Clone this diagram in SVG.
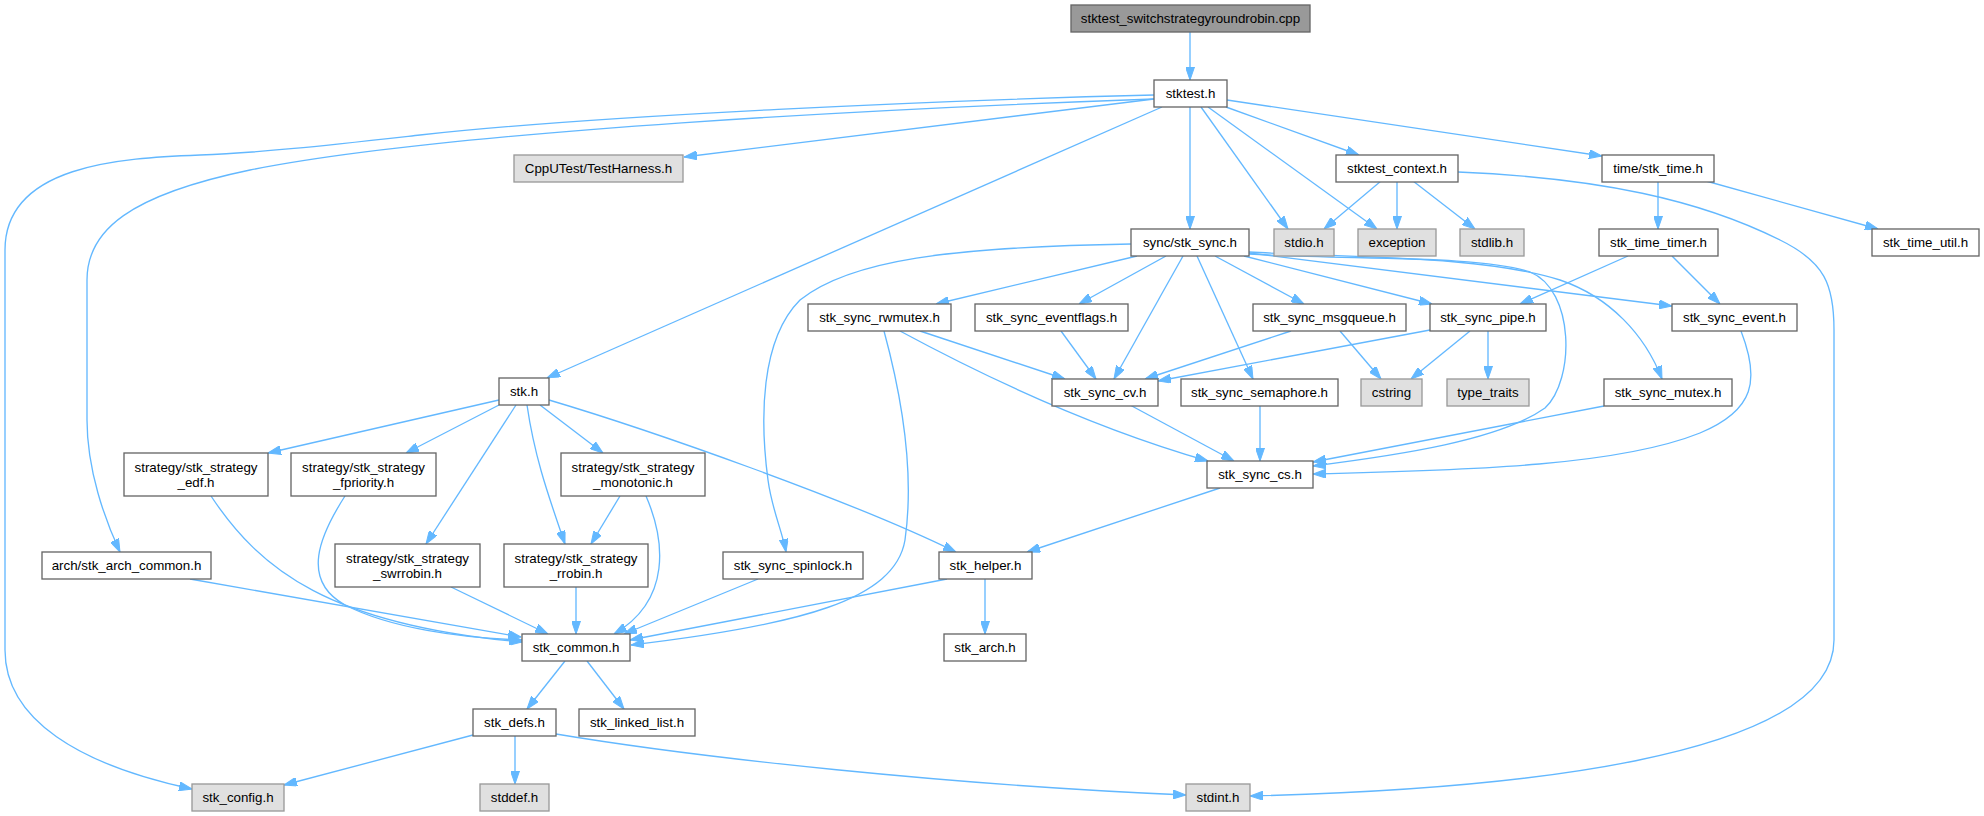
<svg xmlns="http://www.w3.org/2000/svg" width="1984" height="816" viewBox="0 0 1984 816">
<style>
.n rect{fill:#ffffff;stroke:#666666;stroke-width:1.33}
.x rect{fill:#e0e0e0;stroke:#999999;stroke-width:1.33}
.r rect{fill:#999999;stroke:#666666;stroke-width:1.33}
text{font-family:"Liberation Sans",Arial,sans-serif;font-size:13.33px;fill:#000000;text-anchor:middle}
#edges path{fill:none;stroke:#63b8ff;stroke-width:1.33;marker-end:url(#a)}
</style>
<defs>
<marker id="a" markerWidth="13" markerHeight="9" refX="13" refY="4.5" orient="auto" markerUnits="userSpaceOnUse"><path d="M0,0 L13,4.5 L0,9 z" fill="#63b8ff" stroke="#63b8ff" stroke-width="1"/></marker>
</defs>
<rect width="1984" height="816" fill="#ffffff"/>
<g id="edges">
<path d="M1190,32 L1190,80"/>
<path d="M1154,99 L684,157"/>
<path d="M1154,95 C950,100 600,115 420,135 C330,145 260,153 200,155 C120,158 5,165 5,250 L5,650 C5,720 80,765 192,789"/>
<path d="M1154,99 C900,108 450,130 250,170 C130,195 87,230 87,280 L87,420 C87,470 105,520 120,552"/>
<path d="M1162,107 L547,378"/>
<path d="M1190,107 L1190,229"/>
<path d="M1201,107 L1288,229"/>
<path d="M1208,107 L1377,229"/>
<path d="M1226,107 L1359,155"/>
<path d="M1227,100 L1602,156"/>
<path d="M1381,181 L1324,229"/>
<path d="M1397,181 L1397,229"/>
<path d="M1413,181 L1475,229"/>
<path d="M1458,172 C1600,178 1700,200 1780,240 C1825,262 1834,285 1834,330 L1834,640 C1834,760 1500,790 1250,796"/>
<path d="M1658,181 L1658,229"/>
<path d="M1706,181 L1878,229"/>
<path d="M1628,256 L1520,304"/>
<path d="M1672,256 L1720,304"/>
<path d="M1137,256 L936,304"/>
<path d="M1166,256 L1079,304"/>
<path d="M1183,256 L1114,379"/>
<path d="M1197,256 L1253,379"/>
<path d="M1215,256 L1304,304"/>
<path d="M1244,256 L1432,304"/>
<path d="M1249,253 L1672,306"/>
<path d="M1249,252 C1350,258 1480,255 1560,280 C1610,297 1645,335 1662,379"/>
<path d="M1249,254 C1350,260 1480,255 1530,272 C1575,290 1575,380 1545,408 C1500,440 1400,455 1313,466"/>
<path d="M1131,244 C950,247 850,260 800,300 C760,340 760,420 768,480 C772,510 782,530 786,552"/>
<path d="M920,331 L1065,379"/>
<path d="M900,331 C1000,385 1100,430 1208,461"/>
<path d="M884,331 C900,390 915,470 905,540 C895,600 800,625 631,645"/>
<path d="M1061,331 L1096,379"/>
<path d="M1291,331 L1145,379"/>
<path d="M1340,331 L1381,379"/>
<path d="M1430,330 L1158,381"/>
<path d="M1470,331 L1411,379"/>
<path d="M1488,331 L1488,379"/>
<path d="M1741,331 C1760,380 1755,410 1700,433 C1620,465 1480,470 1313,474"/>
<path d="M1604,406 L1313,462"/>
<path d="M1130,405 L1234,461"/>
<path d="M1260,405 L1260,461"/>
<path d="M1220,488 L1027,552"/>
<path d="M499,400 L268,453"/>
<path d="M499,405 L406,453"/>
<path d="M516,405 L426,544"/>
<path d="M527,405 C535,460 550,500 565,544"/>
<path d="M540,405 L603,453"/>
<path d="M549,400 C650,430 850,500 956,552"/>
<path d="M620,496 L591,544"/>
<path d="M646,496 C665,540 672,600 614,634"/>
<path d="M211,496 C260,570 330,625 522,642"/>
<path d="M345,496 C320,535 300,580 345,605 C390,628 460,638 522,640"/>
<path d="M190,579 L521,637"/>
<path d="M451,587 L548,634"/>
<path d="M576,587 L576,634"/>
<path d="M758,579 L624,634"/>
<path d="M947,579 L630,640"/>
<path d="M565,661 L527,709"/>
<path d="M587,661 L624,709"/>
<path d="M473,735 L284,785"/>
<path d="M515,736 L515,784"/>
<path d="M556,734 C700,758 950,785 1186,795"/>
<path d="M985,579 L985,634"/>
</g>
<g id="n_root" class="r"><rect x="1071" y="5" width="239" height="27"/><text x="1190.5" y="23.3">stktest_switchstrategyroundrobin.cpp</text></g>
<g id="n_stktest" class="n"><rect x="1154" y="80" width="73" height="27"/><text x="1190.5" y="98.3">stktest.h</text></g>
<g id="n_cpputest" class="x"><rect x="514" y="155" width="169" height="27"/><text x="598.5" y="173.3">CppUTest/TestHarness.h</text></g>
<g id="n_context" class="n"><rect x="1336" y="155" width="122" height="27"/><text x="1397" y="173.3">stktest_context.h</text></g>
<g id="n_time" class="n"><rect x="1602" y="155" width="112" height="27"/><text x="1658" y="173.3">time/stk_time.h</text></g>
<g id="n_sync" class="n"><rect x="1131" y="229" width="118" height="27"/><text x="1190" y="247.3">sync/stk_sync.h</text></g>
<g id="n_stdio" class="x"><rect x="1274" y="229" width="60" height="27"/><text x="1304" y="247.3">stdio.h</text></g>
<g id="n_exception" class="x"><rect x="1358" y="229" width="78" height="27"/><text x="1397" y="247.3">exception</text></g>
<g id="n_stdlib" class="x"><rect x="1460" y="229" width="64" height="27"/><text x="1492" y="247.3">stdlib.h</text></g>
<g id="n_timer" class="n"><rect x="1599" y="229" width="119" height="27"/><text x="1658.5" y="247.3">stk_time_timer.h</text></g>
<g id="n_util" class="n"><rect x="1872" y="229" width="107" height="27"/><text x="1925.5" y="247.3">stk_time_util.h</text></g>
<g id="n_rwmutex" class="n"><rect x="808" y="304" width="143" height="27"/><text x="879.5" y="322.3">stk_sync_rwmutex.h</text></g>
<g id="n_eventflags" class="n"><rect x="975" y="304" width="153" height="27"/><text x="1051.5" y="322.3">stk_sync_eventflags.h</text></g>
<g id="n_msgqueue" class="n"><rect x="1253" y="304" width="153" height="27"/><text x="1329.5" y="322.3">stk_sync_msgqueue.h</text></g>
<g id="n_pipe" class="n"><rect x="1430" y="304" width="116" height="27"/><text x="1488" y="322.3">stk_sync_pipe.h</text></g>
<g id="n_event" class="n"><rect x="1672" y="304" width="125" height="27"/><text x="1734.5" y="322.3">stk_sync_event.h</text></g>
<g id="n_stk" class="n"><rect x="499" y="378" width="50" height="27"/><text x="524" y="396.3">stk.h</text></g>
<g id="n_cv" class="n"><rect x="1052" y="379" width="106" height="27"/><text x="1105" y="397.3">stk_sync_cv.h</text></g>
<g id="n_semaphore" class="n"><rect x="1181" y="379" width="157" height="27"/><text x="1259.5" y="397.3">stk_sync_semaphore.h</text></g>
<g id="n_cstring" class="x"><rect x="1361" y="379" width="61" height="27"/><text x="1391.5" y="397.3">cstring</text></g>
<g id="n_type_traits" class="x"><rect x="1447" y="379" width="82" height="27"/><text x="1488" y="397.3">type_traits</text></g>
<g id="n_mutex" class="n"><rect x="1604" y="379" width="128" height="27"/><text x="1668" y="397.3">stk_sync_mutex.h</text></g>
<g id="n_edf" class="n"><rect x="124" y="453" width="144" height="43"/><text x="196" y="471.5">strategy/stk_strategy</text><text x="196" y="486.5">_edf.h</text></g>
<g id="n_fpriority" class="n"><rect x="291" y="453" width="145" height="43"/><text x="363.5" y="471.5">strategy/stk_strategy</text><text x="363.5" y="486.5">_fpriority.h</text></g>
<g id="n_monotonic" class="n"><rect x="561" y="453" width="144" height="43"/><text x="633" y="471.5">strategy/stk_strategy</text><text x="633" y="486.5">_monotonic.h</text></g>
<g id="n_cs" class="n"><rect x="1207" y="461" width="106" height="27"/><text x="1260" y="479.3">stk_sync_cs.h</text></g>
<g id="n_swrrobin" class="n"><rect x="335" y="544" width="145" height="43"/><text x="407.5" y="562.5">strategy/stk_strategy</text><text x="407.5" y="577.5">_swrrobin.h</text></g>
<g id="n_rrobin" class="n"><rect x="504" y="544" width="144" height="43"/><text x="576" y="562.5">strategy/stk_strategy</text><text x="576" y="577.5">_rrobin.h</text></g>
<g id="n_arch_common" class="n"><rect x="42" y="552" width="169" height="27"/><text x="126.5" y="570.3">arch/stk_arch_common.h</text></g>
<g id="n_spinlock" class="n"><rect x="723" y="552" width="140" height="27"/><text x="793" y="570.3">stk_sync_spinlock.h</text></g>
<g id="n_helper" class="n"><rect x="939" y="552" width="93" height="27"/><text x="985.5" y="570.3">stk_helper.h</text></g>
<g id="n_common" class="n"><rect x="522" y="634" width="108" height="27"/><text x="576" y="652.3">stk_common.h</text></g>
<g id="n_arch" class="n"><rect x="944" y="634" width="82" height="27"/><text x="985" y="652.3">stk_arch.h</text></g>
<g id="n_defs" class="n"><rect x="473" y="709" width="83" height="27"/><text x="514.5" y="727.3">stk_defs.h</text></g>
<g id="n_linked_list" class="n"><rect x="579" y="709" width="116" height="27"/><text x="637" y="727.3">stk_linked_list.h</text></g>
<g id="n_config" class="x"><rect x="192" y="784" width="92" height="27"/><text x="238" y="802.3">stk_config.h</text></g>
<g id="n_stddef" class="x"><rect x="480" y="784" width="69" height="27"/><text x="514.5" y="802.3">stddef.h</text></g>
<g id="n_stdint" class="x"><rect x="1186" y="784" width="64" height="27"/><text x="1218" y="802.3">stdint.h</text></g>
</svg>
